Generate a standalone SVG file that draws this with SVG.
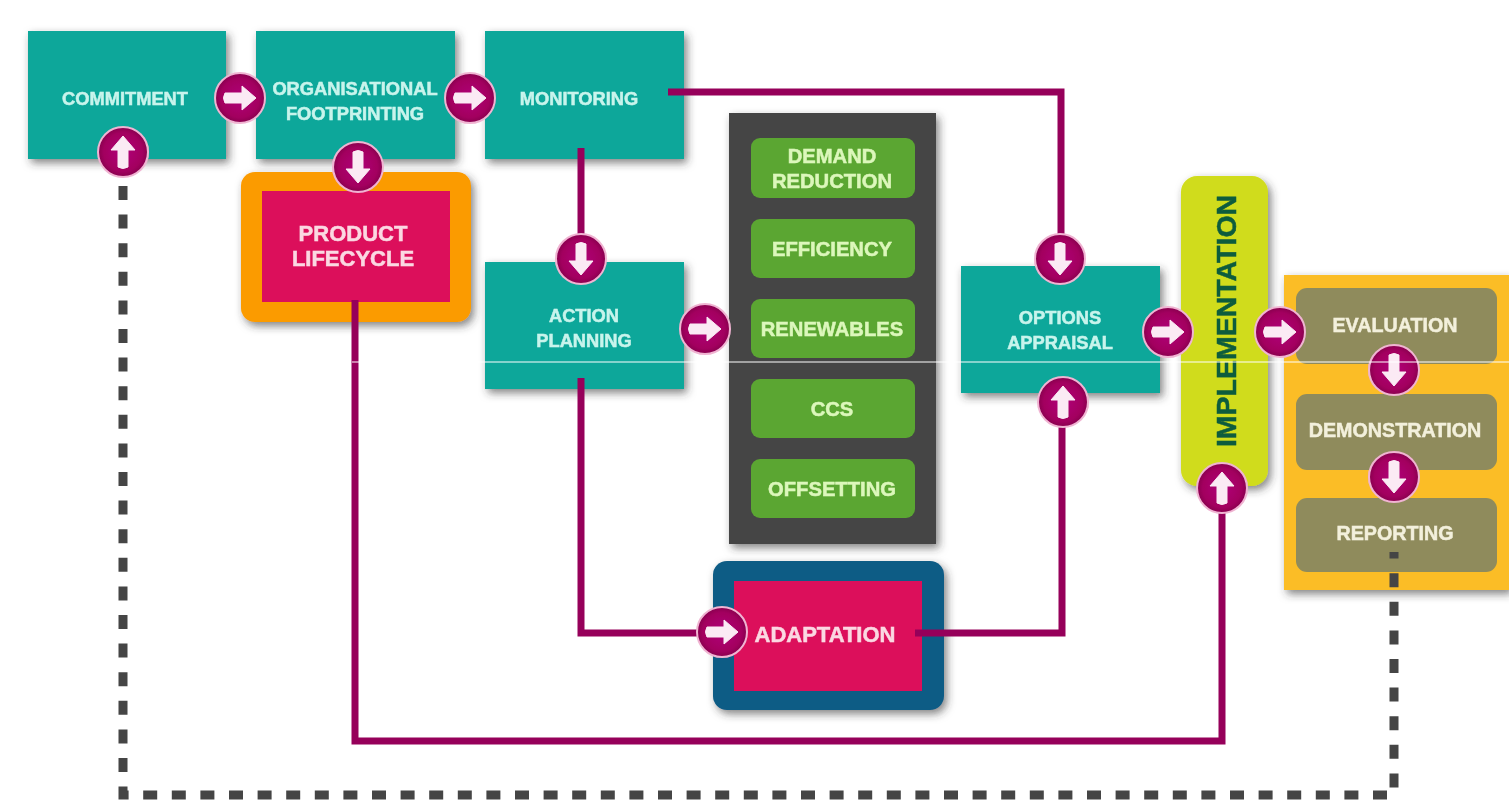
<svg xmlns="http://www.w3.org/2000/svg" xmlns:xlink="http://www.w3.org/1999/xlink" width="1509" height="800" viewBox="0 0 1509 800">
<style>
text{font-family:"Liberation Sans",Arial,sans-serif;font-weight:700;text-anchor:middle;filter:url(#soft);stroke-width:.5px}
.teal{fill:#07a79a;filter:url(#shadow)}
.tt{fill:#c8f4ec;stroke:#c8f4ec;font-size:18.3px}
.gt{fill:#dcf7bb;stroke:#dcf7bb;font-size:20.2px}
.ot{fill:#f3f0dc;stroke:#f3f0dc;font-size:19.7px}
.pt{fill:#fbd8e2;stroke:#fbd8e2;font-size:22px}
.green{fill:#5ba632}
.olive{fill:#8f8b5c}
.crimson{fill:#dc0f5b}
.link{fill:none;stroke:#96005a;stroke-width:7}
.dash{fill:none;stroke:#454545;stroke-width:9;stroke-dasharray:14 14.6}
</style>
<defs>
<filter id="shadow" x="-10%" y="-10%" width="125%" height="125%"><feDropShadow dx="3" dy="4" stdDeviation="4" flood-color="#333" flood-opacity=".6"/></filter>
<filter id="soft" x="-5%" y="-20%" width="110%" height="140%"><feGaussianBlur stdDeviation=".5"/></filter>
<filter id="btnsoft" x="-10%" y="-10%" width="120%" height="120%"><feGaussianBlur stdDeviation=".6"/></filter>
<radialGradient id="ball" cx=".5" cy=".5" r=".55"><stop offset="0" stop-color="#b0047a"/><stop offset=".7" stop-color="#a3005f"/><stop offset="1" stop-color="#7c0047"/></radialGradient>
<linearGradient id="shine" x1="0" y1="0" x2="0" y2="1"><stop offset="0" stop-color="#fff" stop-opacity=".6"/><stop offset="1" stop-color="#fff" stop-opacity="0"/></linearGradient>
<symbol id="btn" overflow="visible" viewBox="-27 -27 54 54" width="54" height="54">
<g filter="url(#btnsoft)">
<circle r="25" fill="url(#ball)" stroke="#f0b4d2" stroke-width="2"/>
<path d="M-15-5H2V-12L16 0 2 12V5H-15Q-18 0-15-5Z" fill="#fbeaf4" stroke="#fbeaf4" stroke-width="1" stroke-linejoin="round"/>
</g>
</symbol>
</defs>
<rect width="1509" height="800" fill="#fff"/>
<g id="commitment"><rect class="teal" x="28" y="31" width="198" height="128"/><text class="tt" x="125" y="105">COMMITMENT</text></g>
<g id="organisational-footprinting"><rect class="teal" x="256" y="31" width="199" height="128"/><text class="tt" x="355" y="95">ORGANISATIONAL</text><text class="tt" x="355" y="120">FOOTPRINTING</text></g>
<g id="monitoring"><rect class="teal" x="485" y="31" width="199" height="128"/><text class="tt" x="579" y="105">MONITORING</text></g>
<g id="product-lifecycle"><rect x="241" y="172" width="230" height="150" rx="14" fill="#fb9b03" filter="url(#shadow)"/><rect class="crimson" x="262" y="191" width="188" height="111"/><text class="pt" x="353" y="241">PRODUCT</text><text class="pt" x="353" y="266">LIFECYCLE</text></g>
<g id="action-planning"><rect class="teal" x="485" y="262" width="199" height="127"/><text class="tt" x="584" y="322">ACTION</text><text class="tt" x="584" y="347">PLANNING</text></g>
<g id="options-panel"><rect x="729" y="113" width="207" height="431" fill="#454545" filter="url(#shadow)"/></g>
<g id="demand-reduction"><rect class="green" x="751" y="138" width="164" height="60" rx="9"/><text class="gt" x="832" y="163">DEMAND</text><text class="gt" x="832" y="188">REDUCTION</text></g>
<g id="efficiency"><rect class="green" x="751" y="219" width="164" height="59" rx="9"/><text class="gt" x="832" y="256">EFFICIENCY</text></g>
<g id="renewables"><rect class="green" x="751" y="299" width="164" height="59" rx="9"/><text class="gt" x="832" y="336">RENEWABLES</text></g>
<g id="ccs"><rect class="green" x="751" y="379" width="164" height="59" rx="9"/><text class="gt" x="832" y="416">CCS</text></g>
<g id="offsetting"><rect class="green" x="751" y="459" width="164" height="59" rx="9"/><text class="gt" x="832" y="496">OFFSETTING</text></g>
<g id="options-appraisal"><rect class="teal" x="961" y="266" width="199" height="127"/><text class="tt" x="1060" y="324">OPTIONS</text><text class="tt" x="1060" y="349">APPRAISAL</text></g>
<g id="adaptation"><rect x="713" y="561" width="231" height="149" rx="14" fill="#0f5c85" filter="url(#shadow)"/><rect class="crimson" x="734" y="581" width="188" height="110"/><text class="pt" x="825" y="642">ADAPTATION</text></g>
<g id="implementation"><rect x="1181" y="176" width="87" height="310" rx="16" fill="#d0dc1c" filter="url(#shadow)"/><text x="0" y="0" font-size="28.5" fill="#0d5c3d" stroke="#0d5c3d" transform="translate(1236 321) rotate(-90)">IMPLEMENTATION</text></g>
<g id="reporting-panel"><rect x="1284" y="275" width="225" height="315" fill="#fbbd25" filter="url(#shadow)"/></g>
<g id="evaluation"><rect class="olive" x="1296" y="288" width="201" height="76" rx="11"/><text class="ot" x="1395" y="332">EVALUATION</text></g>
<g id="demonstration"><rect class="olive" x="1296" y="394" width="201" height="76" rx="11"/><text class="ot" x="1395" y="437">DEMONSTRATION</text></g>
<g id="reporting"><rect class="olive" x="1296" y="498" width="201" height="74" rx="11"/><text class="ot" x="1395" y="540">REPORTING</text></g>
<g id="connectors">
<path class="link" d="M668 92H1061V240"/>
<path class="link" d="M581 148V240"/>
<path class="link" d="M581 378V633H700"/>
<path class="link" d="M915 633H1062V425"/>
<path class="link" d="M355 300V741H1222V510"/>
<path class="dash" d="M123 186V795H1394V552"/>
</g>
<g id="junctions">
<use xlink:href="#btn" href="#btn" x="-27" y="-27" transform="translate(240 98)"/>
<use xlink:href="#btn" href="#btn" x="-27" y="-27" transform="translate(470 98)"/>
<use xlink:href="#btn" href="#btn" x="-27" y="-27" transform="translate(123 152) rotate(-90)"/>
<use xlink:href="#btn" href="#btn" x="-27" y="-27" transform="translate(358 167) rotate(90)"/>
<use xlink:href="#btn" href="#btn" x="-27" y="-27" transform="translate(581 259) rotate(90)"/>
<use xlink:href="#btn" href="#btn" x="-27" y="-27" transform="translate(705 329)"/>
<use xlink:href="#btn" href="#btn" x="-27" y="-27" transform="translate(1060 259) rotate(90)"/>
<use xlink:href="#btn" href="#btn" x="-27" y="-27" transform="translate(1063 402) rotate(-90)"/>
<use xlink:href="#btn" href="#btn" x="-27" y="-27" transform="translate(1168 332)"/>
<use xlink:href="#btn" href="#btn" x="-27" y="-27" transform="translate(1280 332)"/>
<use xlink:href="#btn" href="#btn" x="-27" y="-27" transform="translate(1394 370) rotate(90)"/>
<use xlink:href="#btn" href="#btn" x="-27" y="-27" transform="translate(1394 477) rotate(90)"/>
<use xlink:href="#btn" href="#btn" x="-27" y="-27" transform="translate(1222 488) rotate(-90)"/>
<use xlink:href="#btn" href="#btn" x="-27" y="-27" transform="translate(722 632)"/>
</g>
<path d="M352 362H1509" stroke="#fff" stroke-width="1.2" fill="none"/>
</svg>
